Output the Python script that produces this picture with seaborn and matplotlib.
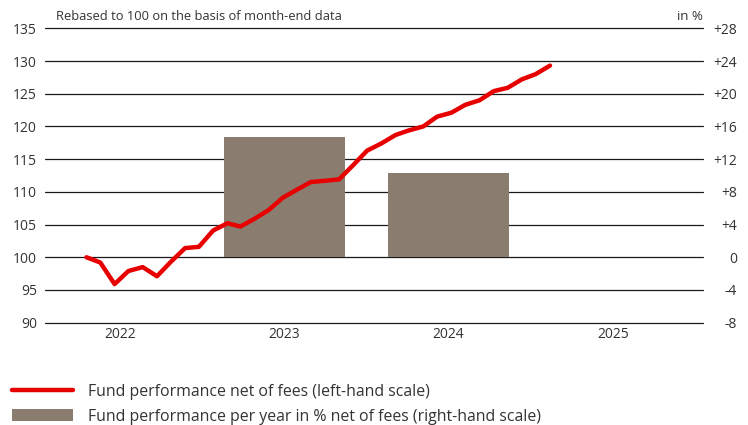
import pandas as pd
import matplotlib.pyplot as plt
import seaborn as sns

# Data
month_ends = pd.date_range('2022-03-31', '2024-12-31', freq='ME')
fund_index = [100.0, 99.2, 95.9, 97.9, 98.5, 97.1, 99.3, 101.4, 101.6, 104.1,
              105.2, 104.7, 105.9, 107.2, 109.1, 110.3, 111.5, 111.7, 111.9, 114.1,
              116.3, 117.4, 118.7, 119.4, 120.0, 121.5, 122.1, 123.3, 124.0, 125.4,
              125.9, 127.2, 128.0, 129.3]
year_labels = ['2022', '2023', '2024', '2025']
bar_years = ['2023', '2024']
bar_values = [14.7, 10.35]
left_ticks = [90, 95, 100, 105, 110, 115, 120, 125, 130, 135]
right_ticks = [-8, -4, 0, 4, 8, 12, 16, 20, 24, 28]

line_label = 'Fund performance net of fees (left-hand scale)'
bar_label = 'Fund performance per year in % net of fees (right-hand scale)'

RED = '#e60000'
TAUPE = '#8a7c6e'
TEXT = '#333333'

sns.set_theme(style='white')
plt.rcParams['font.family'] = ['Open Sans', 'DejaVu Sans']

fig = plt.figure(figsize=(7.48, 4.25), dpi=100)
rect = [45 / 748, 1 - 322.7 / 425, 658 / 748, 294.4 / 425]

# bars + gridlines + right scale
ax_bar = fig.add_axes(rect)
sns.barplot(x=bar_years, y=bar_values, order=year_labels, color=TAUPE,
            width=0.736, saturation=1, linewidth=0, edgecolor='none',
            label=bar_label, ax=ax_bar)
ax_bar.set_xlim(-0.456, 3.548)
ax_bar.set_ylim(-8, 28)
ax_bar.set_yticks(right_ticks)
ax_bar.set_yticklabels(['0' if v == 0 else f'{v:+d}' for v in right_ticks])
ax_bar.yaxis.tick_right()
ax_bar.tick_params(axis='y', length=0, pad=24.5, labelsize=10, labelcolor=TEXT)
for t in ax_bar.get_yticklabels():
    t.set_ha('right')
ax_bar.tick_params(axis='x', length=0, pad=3, labelsize=10, labelcolor=TEXT)
ax_bar.set_axisbelow(True)
ax_bar.grid(axis='y', color='#1a1a1a', linewidth=0.9)
ax_bar.grid(axis='x', visible=False)
for gl in ax_bar.get_ygridlines():
    gl.set_clip_on(False)
for s in ax_bar.spines.values():
    s.set_visible(False)
ax_bar.set_xlabel('')
ax_bar.set_ylabel('')

# line + left scale
ax_line = fig.add_axes(rect, facecolor='none')
sns.lineplot(x=month_ends, y=fund_index, color=RED, linewidth=3.2,
             label=line_label, ax=ax_line)
ax_line.set_xlim(pd.Timestamp('2021-12-31'), pd.Timestamp('2025-11-28'))
ax_line.set_ylim(90, 135)
ax_line.set_yticks(left_ticks)
ax_line.tick_params(axis='y', length=0, pad=5.8, labelsize=10, labelcolor=TEXT)
ax_line.set_xticks([])
ax_line.grid(False)
for s in ax_line.spines.values():
    s.set_visible(False)
ax_line.set_xlabel('')
ax_line.set_ylabel('')

ax_line.annotate('Rebased to 100 on the basis of month-end data', xy=(0, 1),
                 xycoords='axes fraction', xytext=(8, 5.8), textcoords='offset points',
                 ha='left', va='baseline', fontsize=9.3, color=TEXT)
ax_line.annotate('in %', xy=(1, 1), xycoords='axes fraction', xytext=(0, 5.8),
                 textcoords='offset points', ha='right', va='baseline',
                 fontsize=9.5, color=TEXT)

# legend below the plot
h1, l1 = ax_line.get_legend_handles_labels()
h2, l2 = ax_bar.get_legend_handles_labels()
ax_line.get_legend().remove()
if ax_bar.get_legend() is not None:
    ax_bar.get_legend().remove()
leg = fig.legend(h1 + h2, l1 + l2, loc='upper left', bbox_to_anchor=(12 / 748, 1 - 384 / 425),
                 frameon=False, fontsize=11.4, handlelength=3.85, handleheight=0.78,
                 handletextpad=0.95, labelspacing=0.55, borderpad=0, borderaxespad=0)
for t in leg.get_texts():
    t.set_color(TEXT)

fig.savefig('out.png', dpi=100)
